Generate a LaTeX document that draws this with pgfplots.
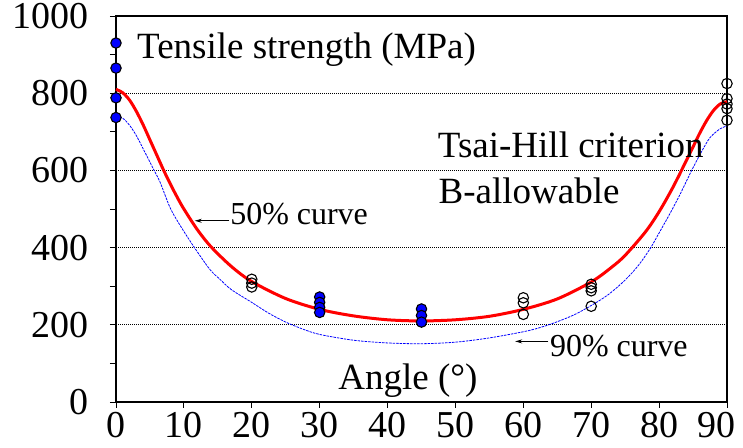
\documentclass[border=0pt]{standalone}
\usepackage{fontspec}
\setmainfont{Liberation Serif}
\usepackage{pgfplots}
\pgfplotsset{compat=1.18}
\usetikzlibrary{arrows.meta}

\begin{document}
\begin{tikzpicture}
\path[use as bounding box] (0,0) rectangle (743bp,448bp);
\begin{axis}[
  at={(116bp,46bp)}, anchor=south west,
  scale only axis, width=611bp, height=386bp,
  xmin=0, xmax=90, ymin=0, ymax=1000,
  xtick={0,10,...,90}, ytick={0,200,...,1000},
  xticklabels={0,10,20,30,40,50,60,70,80,{\hspace*{-22bp}90}},
  minor ytick={100,300,...,900},
  xtick pos=left, ytick pos=left,
  tick align=outside, major tick length=6bp, minor tick length=6bp,
  axis line style={line width=1.1bp},
  every tick/.style={black, line width=0.9bp},
  ymajorgrids,
  major grid style={black, line width=0.6bp, dash pattern=on 1bp off 1bp},
  tick label style={font=\fontsize{38bp}{38bp}\selectfont},
  yticklabel style={xshift=-18bp},
  xticklabel style={yshift=-1bp},
  /pgf/number format/assume math mode=true,
  /pgf/number format/1000 sep={},
  clip=false,
]
% 90% curve (B-allowable)
\addplot[blue, line width=0.8bp, dash pattern=on 2.5bp off 1bp, smooth] coordinates {
(0,740) (1,735) (2,717) (3,690) (4,656) (5.5,604) (6.5,569) (8,502) (9.5,456)
(11.4,404) (13.8,344) (15.3,318) (17,291) (20,258) (22.5,230) (25,207) (27.5,189)
(30,175) (35,160) (40,153) (45,151) (50,155) (55,166) (60,182) (62.5,193) (65,208)
(67.5,226) (70,250) (72.5,278) (75,316) (77,355) (78.7,398) (80,438) (81.5,485)
(83,535) (84.8,600) (86.3,650) (87.5,685) (89,708) (90,715)};
% 50% curve (Tsai-Hill)
\addplot[red, line width=3bp, smooth] coordinates {
(0,810) (1,801) (2,782) (3,753) (4,718) (5,679) (6,640) (7,601) (8,565) (9,531)
(10,500) (12,446) (14,402) (17,351) (20,312) (25,268) (30,240) (35,223) (40,213)
(45,210) (50,213) (55,222) (60,240) (65,267) (70,311) (73,349) (75,380) (78,441)
(80,493) (82,555) (84,625) (85,661) (86,697) (87,729) (88,755) (89,772) (90,778)};
% test data, filled
\addplot[only marks, mark=*, mark size=5.2bp, mark options={fill=blue, draw=black, line width=1.1bp}] coordinates {
(0,930) (0,865) (0,788) (0,737)
(30,272) (30,258) (30,245) (30,232)
(45,241) (45,224) (45,207)};
% test data, open
\addplot[only marks, mark=o, mark size=5.2bp, mark options={draw=black, line width=1.1bp}] coordinates {
(20,318) (20,308) (20,298)
(60,270) (60,257) (60,227)
(70,305) (70,296) (70,288) (70,248)
(90,825) (90,786) (90,772) (90,760) (90,730)};
\node[anchor=base west, font=\fontsize{37bp}{37bp}\selectfont, inner sep=0pt] at (axis cs:3.1,890) {Tensile strength (MPa)};
\node[anchor=base west, font=\fontsize{37bp}{37bp}\selectfont, inner sep=0pt] at (axis cs:47.4,634) {Tsai-Hill criterion};
\node[anchor=base west, font=\fontsize{37bp}{37bp}\selectfont, inner sep=0pt] at (axis cs:47.5,515) {B-allowable};
\node[anchor=base west, font=\fontsize{32bp}{32bp}\selectfont, inner sep=0pt] at (axis cs:16.8,461) {50\% curve};
\node[anchor=base west, font=\fontsize{32bp}{32bp}\selectfont, inner sep=0pt] at (axis cs:63.9,118) {90\% curve};
\node[anchor=base, font=\fontsize{37bp}{37bp}\selectfont, inner sep=0pt] at (axis cs:43.0,33) {Angle (°)};
\draw[-{Stealth[length=7bp,width=4bp]}, line width=0.8bp] (axis cs:16.7,469.5) -- (axis cs:11.6,469.5);
\draw[-{Stealth[length=7bp,width=4bp]}, line width=0.8bp] (axis cs:63.7,157) -- (axis cs:58.8,157);
\end{axis}
\end{tikzpicture}
\end{document}
